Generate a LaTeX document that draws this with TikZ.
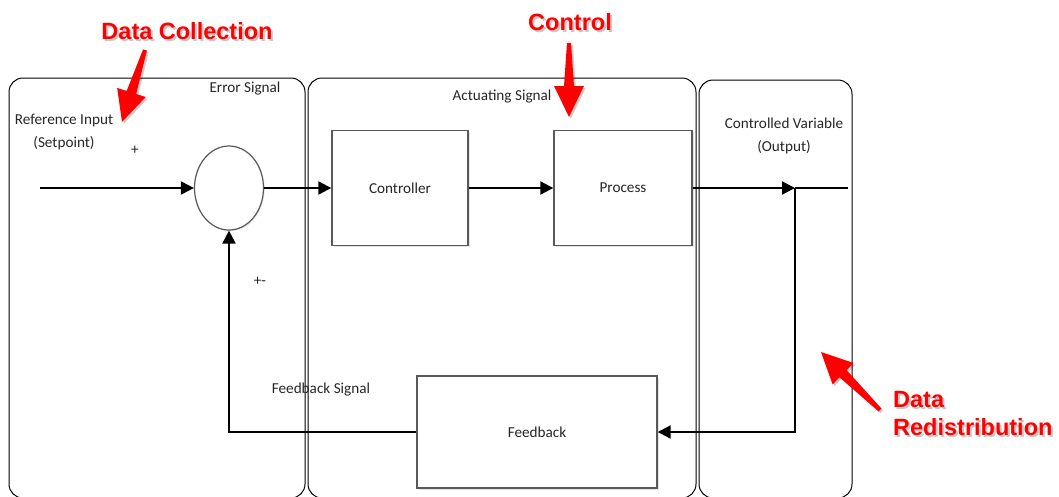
\documentclass[tikz,border=0pt]{standalone}
\usepackage{fontspec}
\setmainfont{Carlito}
\newfontfamily\tagfont{Liberation Sans}
\usetikzlibrary{arrows.meta,shapes.geometric,calc,shadows}
\newcommand\lblsize{\fontsize{15.2}{23}\selectfont}
\newcommand\tagsize{\fontsize{23.5}{28}\selectfont}

\begin{document}
\begin{tikzpicture}[x=1pt,y=-1pt,
  panel/.style={draw=black, line width=1pt, rounded corners=14pt},
  lbl/.style={font=\lblsize, text=black!85, inner sep=0pt},
  block/.style={draw=black!65, line width=1.4pt, fill=white,
    minimum width=#1, minimum height=115pt, inner sep=0pt,
    font=\lblsize, text=black!85,
    drop shadow={opacity=0.22, shadow xshift=1.5pt, shadow yshift=-1.5pt}},
  sumnode/.style={ellipse, draw=black!65, line width=1.2pt, fill=white,
    minimum width=69pt, minimum height=84pt, inner sep=0pt,
    drop shadow={opacity=0.18, shadow xshift=1.2pt, shadow yshift=-1.2pt}},
  wire/.style={draw=black, line width=2.1pt},
  conn/.style={wire, -{Triangle[length=13pt,width=13pt]}},
  tag/.style={font=\tagfont\bfseries\tagsize, text=red, inner sep=0pt},
  tagshade/.style={tag, text=black, opacity=0.22},
  callout/.style={to path={
    ($(\tikztostart)!2pt!90:(\tikztotarget)$) --
    ($(\tikztotarget)!31pt!(\tikztostart)!5pt!-90:(\tikztostart)$) --
    ($(\tikztotarget)!31pt!(\tikztostart)!15pt!-90:(\tikztostart)$) --
    (\tikztotarget) --
    ($(\tikztotarget)!31pt!(\tikztostart)!15pt!90:(\tikztostart)$) --
    ($(\tikztotarget)!31pt!(\tikztostart)!5pt!90:(\tikztostart)$) --
    ($(\tikztostart)!2pt!-90:(\tikztotarget)$) -- cycle}},
  shade/.style={fill=black, opacity=0.2, transform canvas={shift={(1.8pt,-1.8pt)}}}
]
\useasboundingbox (0,0) rectangle (1059,496);
\clip (0,0) rectangle (1059,496);

% swim-lane panels
\draw[panel] (9,78) rectangle (305,498);
\draw[panel] (308,78) rectangle (696,498);
\draw[panel] (699,80) rectangle (852,498);

% loop blocks
\node[sumnode] (sum) at (229,188) {};
\node[block=136pt] (ctrl) at (400,188) {Controller};
\node[block=138pt] (proc) at (623,188) {Process};
\node[block=240pt, minimum height=112pt] (fb) at (537,432) {Feedback};

% signal flow
\coordinate (in) at (40,188);
\coordinate (tap) at (795,188);
\coordinate (out) at (848,188);
\draw[conn] (in) -- (sum.west);
\draw[conn] (sum.east) -- (ctrl.west);
\draw[conn] (ctrl.east) -- (proc.west);
\draw[conn] (proc.east) -- (tap);
\draw[wire] (tap) -- (out);
\draw[conn] (tap) |- (fb.east);
\draw[conn] (fb.west) -| (sum.south);

% signal labels
\node[lbl, align=center] (refin) at (64,132) {Reference Input\\(Setpoint)};
\node[lbl] (plus) at (135,150) {+};
\node[lbl] (err) at (245,89) {Error Signal};
\node[lbl] (pm) at (260,281) {+-};
\node[lbl] (act) at (502,97) {Actuating Signal};
\node[lbl, align=center] (cv) at (784,136) {Controlled Variable\\(Output)};
\node[lbl] (fbsig) at (321,390) {Feedback Signal};

% stage callouts
\coordinate (dcTail) at (145,50);  \coordinate (dcTip) at (122,122);
\coordinate (ctlTail) at (569,43); \coordinate (ctlTip) at (569,117);
\coordinate (drTail) at (880,410); \coordinate (drTip) at (821,352);

\path[shade] (dcTail) to[callout] (dcTip);
\path[shade] (ctlTail) to[callout] (ctlTip);
\path[shade] (drTail) to[callout] (drTip);
\fill[red] (dcTail) to[callout] (dcTip);
\fill[red] (ctlTail) to[callout] (ctlTip);
\fill[red] (drTail) to[callout] (drTip);

\node[tagshade] (dcShade) at (189,33) {Data Collection};
\node[tagshade] (ctlShade) at (572,24) {Control};
\node[tagshade, anchor=west, align=left] (drShade) at (895,416) {Data\\Redistribution};
\node[tag] (dc) at (187,31) {Data Collection};
\node[tag] (ctl) at (570,22) {Control};
\node[tag, anchor=west, align=left] (dr) at (893,414) {Data\\Redistribution};
\end{tikzpicture}
\end{document}
